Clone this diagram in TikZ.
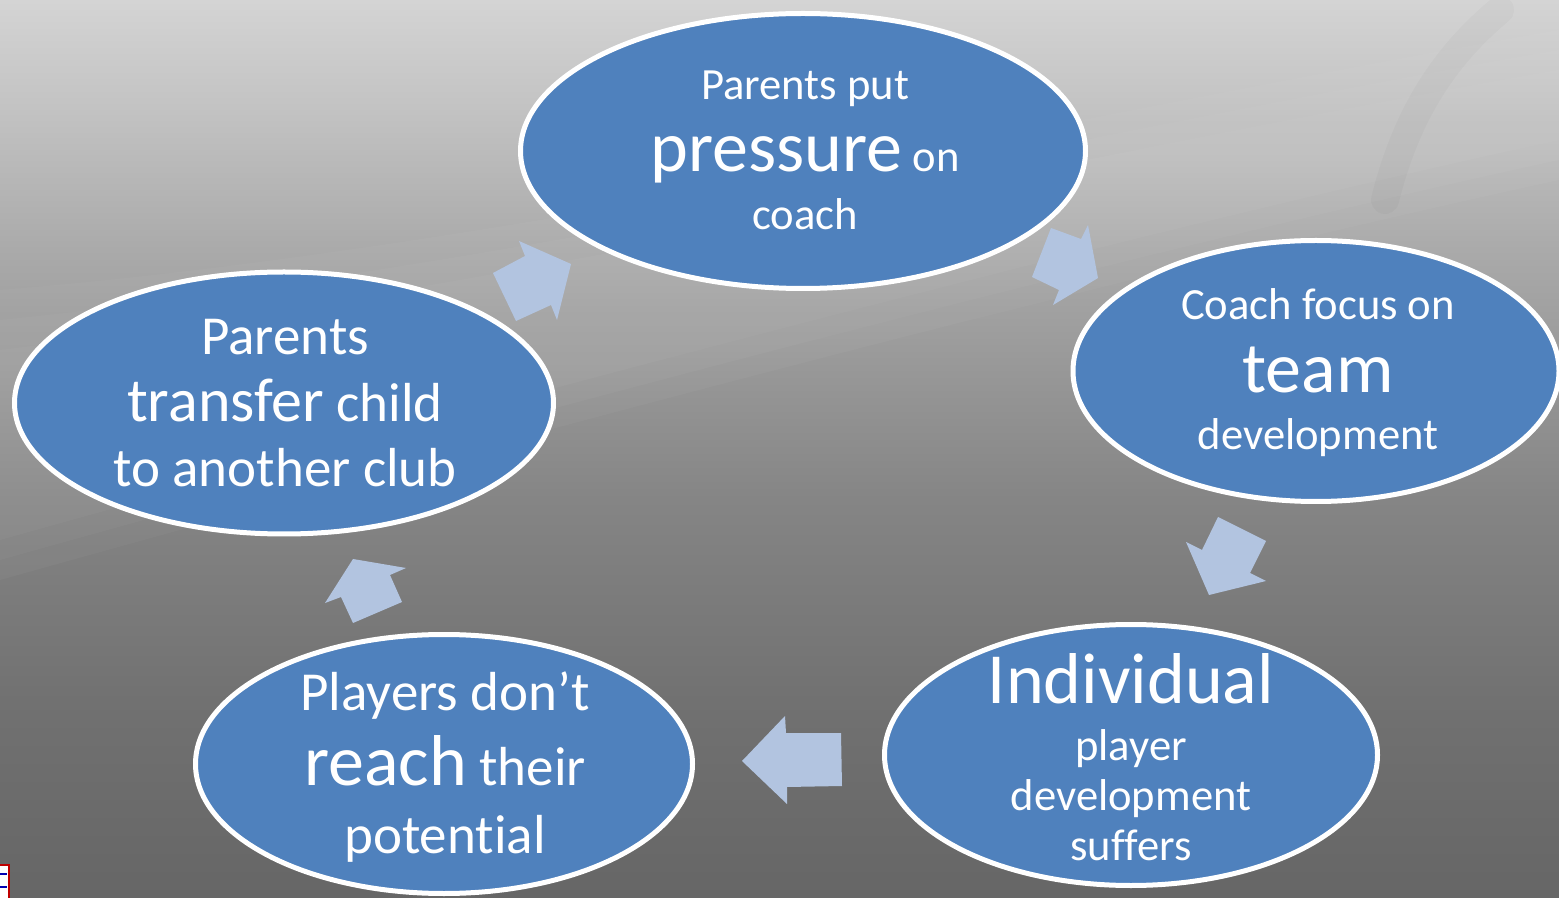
\documentclass[tikz,border=0pt]{standalone}
\usepackage{fontspec}
\setmainfont[Ligatures=CommonOff]{Carlito}
\usetikzlibrary{shapes.geometric}
\definecolor{bub}{RGB}{79,129,189}
\definecolor{arr}{RGB}{178,196,224}
\definecolor{gA}{RGB}{102,102,102}
\definecolor{gB}{RGB}{113,113,113}
\definecolor{gC}{RGB}{133,133,133}
\definecolor{gD}{RGB}{147,147,147}
\definecolor{gE}{RGB}{170,170,170}
\definecolor{gF}{RGB}{196,196,196}
\definecolor{gG}{RGB}{212,212,212}
\pgfdeclareverticalshading{bgshade}{100bp}{color(0bp)=(gA); color(25bp)=(gA); color(36bp)=(gB); color(47.2bp)=(gC); color(52.7bp)=(gD); color(61.1bp)=(gE); color(69.4bp)=(gF); color(75bp)=(gG); color(100bp)=(gG)}
\newcommand\fszA{\fontsize{22.3pt}{26pt}\selectfont}
\newcommand\fszB{\fontsize{27.5pt}{32pt}\selectfont}
\newcommand\fszC{\fontsize{31pt}{36pt}\selectfont}
\newcommand\fszL{\fontsize{36pt}{42pt}\selectfont}
\begin{document}
\begin{tikzpicture}[x=0.5pt,y=-0.5pt,
  bubble/.style={ellipse, draw=white, line width=2.5pt, fill=bub, inner sep=0pt},
  blockarrow/.style={fill=arr},
  swoosh/.style={white, opacity=0.03},
  txt/.style={text=white, anchor=base, inner sep=0pt}]
\useasboundingbox (0,0) rectangle (1559,898);
\shade[shading=bgshade] (0,0) rectangle (1559,898);
% subtle background swooshes (soft, layered)
\fill[swoosh] (0,290) .. controls (500,250) and (1100,110) .. (1559,30) -- (1559,180) .. controls (1100,280) and (500,440) .. (0,580) -- cycle;
\fill[swoosh] (0,320) .. controls (500,270) and (1100,130) .. (1559,50) -- (1559,160) .. controls (1100,260) and (500,420) .. (0,560) -- cycle;
\fill[swoosh] (0,350) .. controls (500,290) and (1100,150) .. (1559,70) -- (1559,140) .. controls (1100,240) and (500,400) .. (0,540) -- cycle;
\draw[black, opacity=0.025, line width=14pt, line cap=round] (1385,200) .. controls (1405,120) and (1440,60) .. (1500,10);
% logo fragment
\fill[white] (0,866) rectangle (8,898);
\draw[red!75!black, line width=1pt] (0,865) -- (9,865) -- (9,898);
\draw[blue!70!black, line width=0.8pt] (0,874) -- (7,874) (0,887) -- (7,887);
% block arrows
\fill[blockarrow] (571,264) -- (519,241) -- (525,256) -- (493,273) -- (516,321) -- (551,305) -- (557,320) -- cycle;
\fill[blockarrow] (1098,278) -- (1053,305) -- (1059,290) -- (1032,277) -- (1051,228) -- (1081,239) -- (1088,225) -- cycle;
\fill[blockarrow] (1218,517) -- (1266,541) -- (1250,573) -- (1266,581) -- (1209,595) -- (1186,542) -- (1202,550) -- cycle;
\fill[blockarrow] (742,761) -- (785,716) -- (786,733) -- (841,733) -- (842,786) -- (787,787) -- (787,804) -- cycle;
\fill[blockarrow] (353,559) -- (406,568) -- (390,575) -- (402,602) -- (353,623) -- (341,597) -- (325,603) -- cycle;
% bubbles
\node[bubble, minimum width=282.5pt, minimum height=137.5pt] (e1) at (803,151) {};
\node[bubble, minimum width=243pt, minimum height=130.5pt] (e2) at (1316,371) {};
\node[bubble, minimum width=246.5pt, minimum height=130.5pt] (e3) at (1131,755) {};
\node[bubble, minimum width=248.5pt, minimum height=129.5pt] (e4) at (444,764) {};
\node[bubble, minimum width=269.5pt, minimum height=131pt] (e5) at (284,403) {};
% texts
\node[txt] (t1a) at (805,100) {\fszA Parents put};
\node[txt] (t1b) at (805,172) {{\fszL pressure}{\fszA\ on}};
\node[txt] (t1c) at (805,230) {\fszA coach};
\node[txt] (t2a) at (1318,320) {\fszA Coach focus on};
\node[txt] (t2b) at (1318,393) {\fszL team};
\node[txt] (t2c) at (1318,450) {\fszA development};
\node[txt] (t3a) at (1131,703) {\fszL Individual};
\node[txt] (t3b) at (1131,760) {\fszA player};
\node[txt] (t3c) at (1131,810) {\fszA development};
\node[txt] (t3d) at (1131,860) {\fszA suffers};
\node[txt] (t4a) at (445,710) {\fszB Players don’t};
\node[txt] (t4b) at (445,785) {{\fszL reach}{\fszB\ their}};
\node[txt] (t4c) at (445,853) {\fszB potential};
\node[txt] (t5a) at (285,355) {\fszB Parents};
\node[txt] (t5b) at (285,422) {{\fszC transfer}{\fszB\ child}};
\node[txt] (t5c) at (285,487) {\fszB to another club};
\end{tikzpicture}
\end{document}
